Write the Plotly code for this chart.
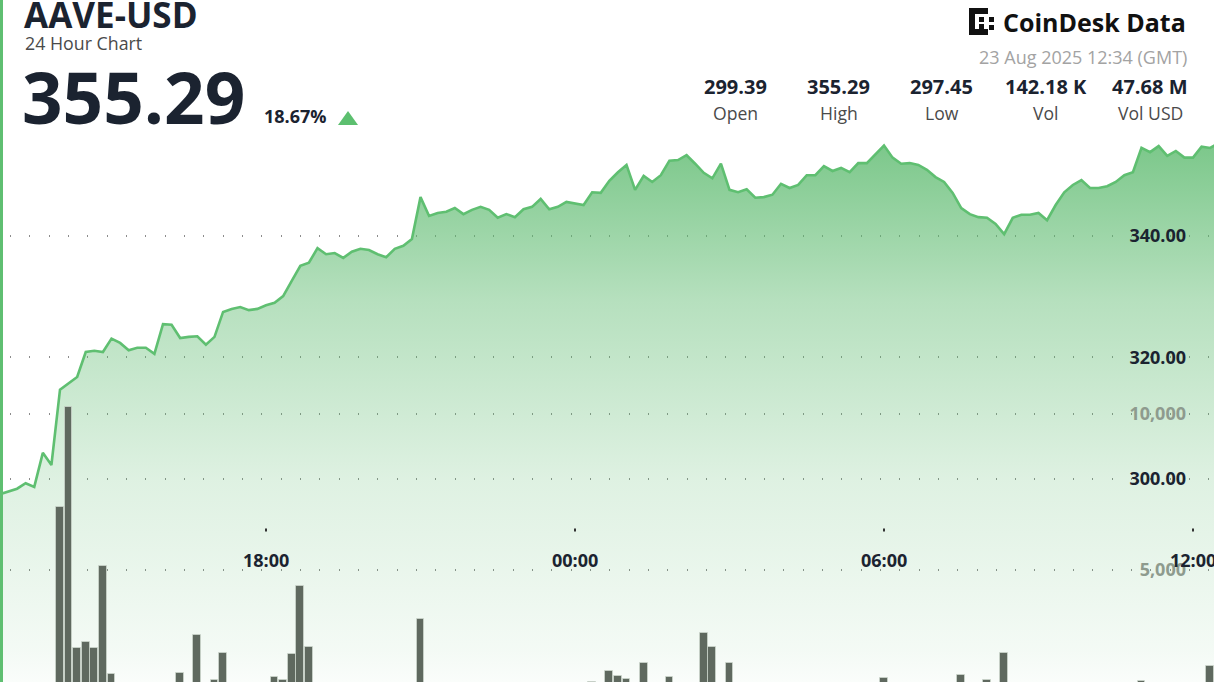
import pandas as pd
import plotly.graph_objects as go

# ---------------- data ----------------
start_time = "2025-08-22 12:50"
prices = [
    297.5, 297.9, 298.4, 299.3, 298.7, 304.3, 302.3, 314.7, 315.8, 316.8,
    320.9, 321.1, 320.9, 323.1, 322.4, 321.2, 321.6, 321.6, 320.6, 325.5,
    325.4, 323.2, 323.4, 323.5, 322.1, 323.4, 327.5, 328.0, 328.3, 327.8,
    328.0, 328.6, 329.0, 330.1, 332.6, 335.1, 335.6, 338.0, 337.0, 337.2,
    336.4, 337.4, 337.9, 337.7, 337.0, 336.5, 337.9, 338.4, 339.5, 346.4,
    343.3, 343.8, 344.0, 344.6, 343.6, 344.3, 344.8, 344.3, 343.0, 343.6,
    343.1, 344.4, 344.8, 346.1, 344.4, 344.8, 345.6, 345.4, 345.1, 347.2,
    347.1, 349.1, 350.5, 351.7, 347.6, 349.9, 348.9, 350.0, 352.4, 352.5,
    353.3, 351.9, 350.4, 349.5, 351.9, 347.6, 347.2, 347.7, 346.3, 346.4,
    346.8, 348.6, 347.9, 348.4, 350.0, 350.0, 351.5, 350.7, 351.2, 350.5,
    352.0, 352.0, 353.5, 354.9, 352.9, 351.9, 352.0, 351.7, 350.9, 349.7,
    348.9, 347.1, 344.6, 343.6, 343.1, 343.0, 342.0, 340.3, 343.0, 343.5,
    343.5, 343.8, 342.6, 345.1, 347.2, 348.4, 349.2, 347.9, 347.9, 348.2,
    348.9, 350.0, 350.5, 354.5, 353.8, 354.8, 353.2, 354.0, 352.9, 352.9,
    354.7, 354.5, 355.29,
]
volumes = [
    620, 480, 350, 910, 540, 1180, 860, 7020, 10220, 2500,
    2690, 2500, 5130, 1670, 1050, 720, 880, 640, 930, 1240,
    1120, 1700, 980, 2920, 1150, 1470, 2340, 870, 690, 1010,
    760, 1190, 1570, 1470, 2310, 4490, 2530, 1280, 940, 610,
    730, 560, 480, 690, 520, 410, 630, 880, 1130, 3430,
    1310, 820, 540, 470, 610, 390, 520, 450, 580, 360,
    420, 690, 530, 760, 480, 390, 560, 440, 920, 1420,
    1180, 1760, 1600, 1510, 1090, 2020, 870, 960, 1570, 740,
    1160, 1320, 2980, 2530, 1250, 2020, 980, 640, 720, 530,
    460, 810, 590, 420, 670, 510, 740, 380, 450, 560,
    620, 490, 830, 1540, 1070, 640, 520, 430, 590, 710,
    880, 1020, 1640, 1210, 960, 1470, 1130, 2340, 1260, 870,
    640, 590, 760, 940, 1100, 820, 690, 560, 480, 530,
    620, 790, 1050, 1440, 1170, 980, 760, 640, 580, 710,
    1230, 1920, 900,
]
times = pd.date_range(start_time, periods=len(prices), freq="10min")

price_ticks = [300, 320, 340]
volume_ticks = [5000, 10000]
time_ticks = ["2025-08-22 18:00", "2025-08-23 00:00",
              "2025-08-23 06:00", "2025-08-23 12:00"]
time_tick_text = ["18:00", "00:00", "06:00", "12:00"]

symbol = "AAVE-USD"
subtitle = "24 Hour Chart"
last_price = "355.29"
change_pct = "18.67%"
stamp = "23 Aug 2025 12:34 (GMT)"
stat_values = ["299.39", "355.29", "297.45", "142.18 K", "47.68 M"]
stat_labels = ["Open", "High", "Low", "Vol", "Vol USD"]

# ---------------- figure ----------------
W, H = 1214, 682
FONT = "Open Sans"
DARK = "#1b2330"


def px(x):
    return x / W


def py(y):
    return 1 - y / H


fig = go.Figure()

fig.add_trace(go.Scatter(
    x=times, y=prices, mode="lines",
    line=dict(color="#5fbf71", width=2.6),
    fill="tozeroy",
    fillgradient=dict(
        type="vertical",
        start=266.58, stop=354.8,
        colorscale=[
            [0.0, "rgba(92,186,110,0.03)"],
            [0.06, "rgba(92,186,110,0.07)"],
            [0.376, "rgba(92,186,110,0.20)"],
            [0.713, "rgba(92,186,110,0.45)"],
            [1.0, "rgba(92,186,110,0.80)"],
        ],
    ),
    yaxis="y", hoverinfo="skip", showlegend=False,
))

fig.add_trace(go.Bar(
    x=times, y=volumes, yaxis="y2",
    width=9 * 60 * 1000,
    marker=dict(color="#5f695f", line=dict(color="rgba(210,220,210,0.7)", width=1)),
    hoverinfo="skip", showlegend=False,
))

grid_dash = "0px,10px,1px,8.33px"

fig.update_layout(
    width=W, height=H,
    margin=dict(l=0, r=0, t=0, b=0),
    paper_bgcolor="white", plot_bgcolor="white",
    font=dict(family=FONT),
    bargap=0,
    xaxis=dict(
        type="date",
        range=["2025-08-22 12:50:06", "2025-08-23 12:24:28"],
        domain=[0, 1],
        showticklabels=False, ticks="",
        showgrid=False, showline=False, zeroline=False,
    ),
    yaxis=dict(
        range=[266.58, 378.85], domain=[0, 1],
        side="right", anchor="x",
        tickvals=price_ticks, tickformat=".2f",
        ticklabelposition="inside", ticks="",
        ticklabelstandoff=25,
        showgrid=True, gridcolor="rgba(120,120,120,0.85)", gridwidth=1.5,
        griddash=grid_dash,
        zeroline=False, showline=False,
        tickfont=dict(family=FONT, size=18, color=DARK, weight=700),
    ),
    yaxis2=dict(
        range=[1410, 23269],
        overlaying="y", side="right", anchor="x",
        tickvals=volume_ticks, tickformat=",",
        ticklabelposition="inside", ticks="",
        ticklabelstandoff=25,
        showgrid=True, gridcolor="rgba(120,120,120,0.85)", gridwidth=1.5,
        griddash=grid_dash,
        zeroline=False, showline=False,
        tickfont=dict(family=FONT, size=18, color="#8e9b8e", weight=700),
    ),
)

ann = []


def txt(text, x, y, size, color, weight=400, xanchor="left"):
    ann.append(dict(
        text=text, x=px(x), y=py(y), xref="paper", yref="paper",
        xanchor=xanchor, yanchor="middle", showarrow=False,
        font=dict(family=FONT, size=size, color=color, weight=weight),
    ))


txt(symbol, 22, 15, 35, DARK, 700)
txt(subtitle, 23, 43, 17.8, "#4a4a4a")
txt(last_price, 20, 97, 71, DARK, 700)
txt(change_pct, 262, 116, 18, DARK, 700)
txt("CoinDesk Data", 1188, 22, 25, "#111111", 700, xanchor="right")
txt(stamp, 1189, 57, 18, "#a3a3a3", xanchor="right")

stat_x = [735, 839, 942, 1046, 1150]
for cx, v, l in zip(stat_x, stat_values, stat_labels):
    txt(v, cx, 86, 20, DARK, 700, xanchor="center")
    txt(l, cx, 113, 17.6, "#4a4a4a", xanchor="center")

shapes = []
# time-axis ticks (positioned on the x scale)
for t, lab in zip(time_ticks, time_tick_text):
    ann.append(dict(
        text=lab, x=t, xref="x", y=py(560), yref="paper",
        xanchor="center", yanchor="middle", showarrow=False,
        font=dict(family=FONT, size=18, color=DARK, weight=700),
    ))
    shapes.append(dict(type="line", xref="x", yref="paper",
                       x0=t, x1=t, y0=py(528.5), y1=py(531.5),
                       line=dict(color="#333333", width=2)))

fig.update_layout(annotations=ann)

# left accent line
shapes.append(dict(type="line", xref="paper", yref="paper",
                   x0=px(1.5), x1=px(1.5), y0=0, y1=1,
                   line=dict(color="#5fbf71", width=3)))
# up triangle
shapes.append(dict(type="path", xref="paper", yref="paper",
                   path=f"M {px(338)},{py(125)} L {px(358)},{py(125)} L {px(348)},{py(111)} Z",
                   fillcolor="#5cbf6f", line=dict(width=0)))


def rect(x0, y0, x1, y1):
    shapes.append(dict(type="rect", xref="paper", yref="paper",
                       x0=px(x0), x1=px(x1), y0=py(y1), y1=py(y0),
                       fillcolor="#111111", line=dict(width=0)))


# logo glyph
rect(969, 8, 975, 35)
rect(969, 8, 988, 14)
rect(969, 29, 988, 35)
rect(979, 17, 984, 22)
rect(979, 24, 984, 29)
rect(989, 17, 994, 22)
rect(989, 25, 994, 30)
fig.update_layout(shapes=shapes)

fig.write_html(
    "out.html",
    config={"displayModeBar": False},
    post_script="document.body.style.margin='0px';document.body.style.overflow='hidden';",
)
